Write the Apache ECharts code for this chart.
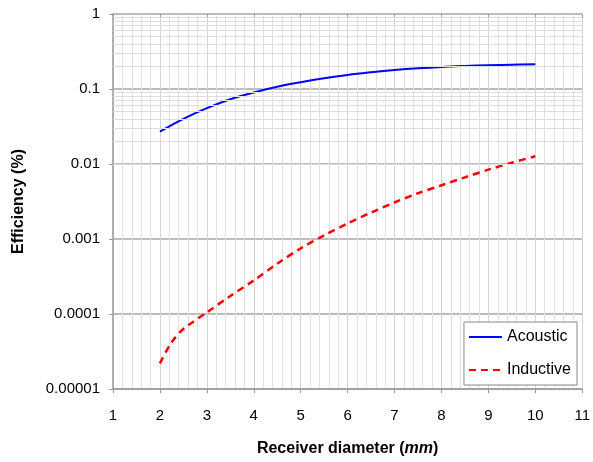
<!DOCTYPE html>
<html>
<head>
<meta charset="utf-8">
<script src="https://cdn.jsdelivr.net/npm/echarts@6/dist/echarts.min.js"></script>
<style>
html,body{margin:0;padding:0;background:#fff;}
#chart{width:593px;height:462px;}
</style>
</head>
<body>
<div id="chart"></div>
<script>
// receiver diameter (mm)
var acousticD = [2, 2.5, 3, 3.5, 4, 4.5, 5, 5.5, 6, 6.5, 7, 7.5, 8, 8.5, 9, 9.5, 10];
var acoustic = [0.027, 0.040, 0.0555, 0.073, 0.090, 0.107, 0.123, 0.139, 0.154, 0.167, 0.179, 0.189, 0.197, 0.203, 0.208, 0.211, 0.213];
var inductiveD = [2, 2.25, 2.5, 3, 3.5, 4, 4.5, 5, 5.5, 6, 6.5, 7, 7.5, 8, 8.5, 9, 9.5, 10];
var inductive = [0.000022, 0.000042, 0.000063, 0.000105, 0.000174, 0.00028, 0.000468, 0.00075, 0.00112, 0.00161, 0.00225, 0.00307, 0.00407, 0.0052, 0.00664, 0.0084, 0.0104, 0.0127];
var yTicks = ['1', '0.1', '0.01', '0.001', '0.0001', '0.00001'];

var font = 'Liberation Sans, Arial, sans-serif';

function pairs(xs, ys) {
    var out = [];
    for (var i = 0; i < xs.length; i++) {
        out.push([xs[i], ys[i]]);
    }
    return out;
}

// minor horizontal grid lines at 2..9 x each decade
var minorLines = [];
for (var p = -5; p < 0; p++) {
    for (var m = 2; m <= 9; m++) {
        minorLines.push({yAxis: m * Math.pow(10, p)});
    }
}

var myChart = echarts.init(document.getElementById('chart'));
var option = {
    backgroundColor: '#FFFFFF',
    animation: false,
    textStyle: {fontFamily: font},
    grid: {left: 113, top: 14, width: 472, height: 379},
    legend: {
        orient: 'vertical',
        right: 16,
        bottom: 77,
        backgroundColor: '#fff',
        borderColor: '#888',
        borderWidth: 1,
        borderRadius: 0,
        padding: [7, 6, 7, 4],
        itemWidth: 33,
        itemHeight: 12,
        itemGap: 17,
        itemStyle: {opacity: 0},
        textStyle: {fontSize: 16, color: '#000', fontFamily: font},
        data: ['Acoustic', 'Inductive']
    },
    xAxis: [
        {
            type: 'value',
            min: 1,
            max: 11,
            interval: 1,
            name: '{b|Receiver diameter (}{i|mm}{b|)}',
            nameLocation: 'middle',
            nameGap: 52,
            nameTextStyle: {
                rich: {
                    b: {fontSize: 16, fontWeight: 'bold', color: '#000', fontFamily: font},
                    i: {fontSize: 16, fontWeight: 'bold', fontStyle: 'italic', color: '#000', fontFamily: font}
                }
            },
            axisLine: {show: true, lineStyle: {color: '#999', width: 1.5}},
            axisTick: {show: true, length: 4, lineStyle: {color: '#999'}},
            axisLabel: {fontSize: 15, color: '#000', margin: 19, fontFamily: font},
            splitLine: {show: true, lineStyle: {color: '#d4d4d4', width: 1}},
            minorTick: {show: false, splitNumber: 5},
            minorSplitLine: {show: true, lineStyle: {color: '#e0e0e0', width: 1}}
        },
        {
            type: 'value',
            position: 'top',
            min: 1,
            max: 11,
            interval: 1,
            axisLine: {show: false},
            axisTick: {show: true, inside: true, length: 4, lineStyle: {color: '#999'}},
            axisLabel: {show: false},
            splitLine: {show: false}
        }
    ],
    yAxis: [
        {
            type: 'log',
            logBase: 10,
            min: 0.00001,
            max: 1,
            name: 'Efficiency (%)',
            nameLocation: 'middle',
            nameGap: 86,
            nameTextStyle: {fontSize: 16, fontWeight: 'bold', color: '#000', fontFamily: font},
            axisLine: {show: true, lineStyle: {color: '#999', width: 1.5}},
            axisTick: {show: true, length: 4, lineStyle: {color: '#999'}},
            axisLabel: {
                fontSize: 15,
                color: '#000',
                margin: 13,
                fontFamily: font,
                formatter: function (v) {
                    var k = Math.round(-Math.log10(v));
                    return yTicks[k];
                }
            },
            splitLine: {show: true, lineStyle: {color: '#a6a6a6', width: 1.5}}
        }
    ],
    series: [
        {
            name: 'grid',
            type: 'line',
            data: [],
            z: 1,
            silent: true,
            markLine: {
                silent: true,
                symbol: 'none',
                label: {show: false},
                lineStyle: {color: '#dedede', width: 1, type: 'solid'},
                data: minorLines
            }
        },
        {
            name: 'Acoustic',
            type: 'line',
            smooth: 0.4,
            symbol: 'none',
            z: 4,
            lineStyle: {color: '#0000ff', width: 2},
            itemStyle: {color: '#0000ff'},
            data: pairs(acousticD, acoustic)
        },
        {
            name: 'Inductive',
            type: 'line',
            smooth: 0.3,
            symbol: 'none',
            z: 4,
            lineStyle: {color: '#ff0000', width: 2.5, type: [7, 5]},
            itemStyle: {color: '#ff0000'},
            data: pairs(inductiveD, inductive)
        }
    ]
};
myChart.setOption(option);
</script>
</body>
</html>
